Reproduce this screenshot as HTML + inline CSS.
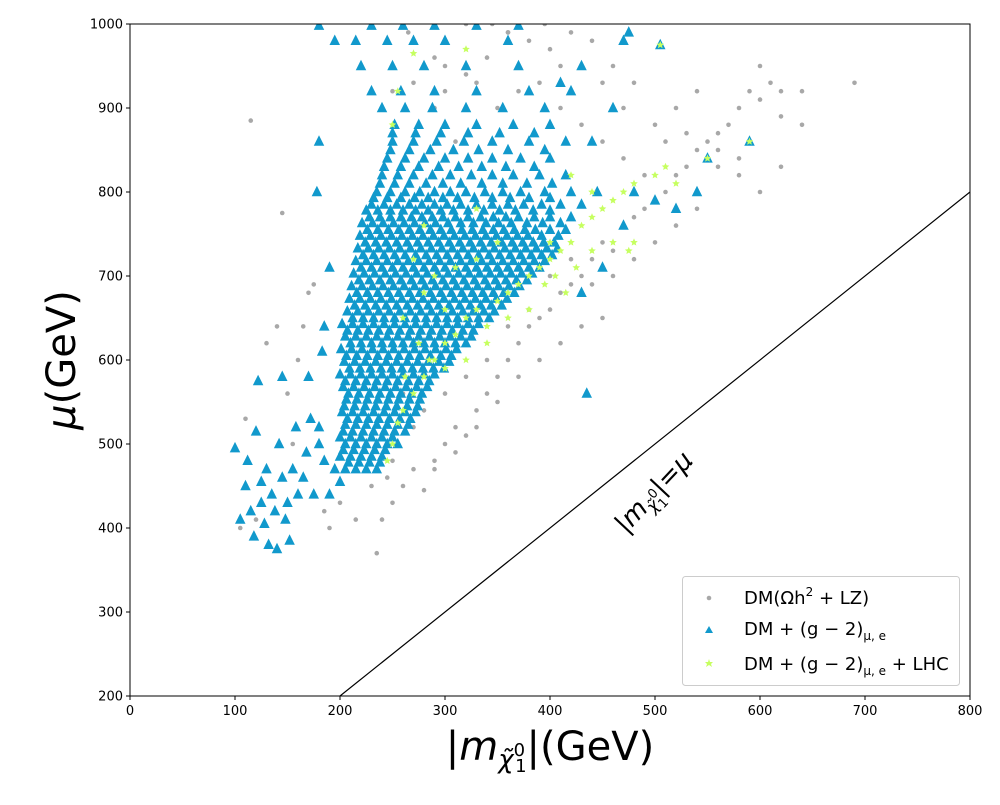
<!DOCTYPE html>
<html><head><meta charset="utf-8"><style>
body{margin:0;background:#fff}
svg text{font-family:"DejaVu Sans","Liberation Sans",sans-serif}
</style></head><body>
<svg id="chart" width="1000" height="800" xmlns="http://www.w3.org/2000/svg">
<g id="pts"></g>
<g id="axes"></g>
</svg>
<script>
const xTicks=[0,100,200,300,400,500,600,700,800];
const yTicks=[200,300,400,500,600,700,800,900,1000];
const blueRows=[
[470,[205,215,225,235]],[485,[200,210,220,230,240]],[500,[205,215,225,235,245,255]],
[515,[203,212,222,232,242,252,262]],[530,[207,217,227,237,247,257,267]],
[545,[204,214,224,234,244,254,264,274]],[560,[208,218,228,238,248,258,268,278]],
[575,[205,215,225,235,245,255,265,275,285]],[590,[209,219,229,239,249,259,269,279,289,299]],
[605,[206,216,226,236,246,256,266,276,286,296,306]],[620,[210,220,230,240,250,260,270,280,290,300,310,320]],
[635,[207,217,227,237,247,257,267,277,287,297,307,317,327]],[650,[212,222,232,242,252,262,272,282,292,302,312,322,332,342]],
[665,[214,224,234,244,254,264,274,284,294,304,314,324,334,344,354]],
[680,[216,226,236,246,256,266,276,286,296,306,316,326,336,346,356,366]],
[695,[218,228,238,248,258,268,278,288,298,308,318,328,338,348,358,368,378]],
[710,[220,230,240,250,260,270,280,290,300,310,320,330,340,350,360,370,380,390]],
[725,[222,232,242,252,262,272,282,292,302,312,322,332,342,352,362,372,382,392,402]],
[740,[224,234,244,254,264,274,284,294,304,314,324,334,344,354,364,374,384,394,404]],
[755,[226,236,246,256,266,276,286,296,306,316,326,336,346,356,366,376,386,400,415]],
[770,[228,238,248,258,268,278,288,298,310,322,334,346,358,370,385,400,420]],
[785,[230,242,254,266,278,290,302,315,330,345,360,375,392,410,430]],
[800,[235,248,262,276,290,305,320,338,355,372,395,420,445]],
[820,[240,255,270,288,305,325,345,365,390,415]],[840,[245,262,280,300,322,345,372,400]],
[860,[250,270,292,318,345,380,415]],[880,[252,275,300,330,365,400]],
[900,[240,262,288,320,355,395]],[920,[230,258,290,330,380,420]],
[950,[220,250,280,320,370,430]],[980,[215,245,270,300,360,470]],[998,[180,230,260,290,330,370]],
[478,[208,218,228,238]],[493,[203,213,223,233,243]],[508,[200,210,220,230,240,250]],
[523,[205,215,225,235,245,255,265]],[538,[202,212,222,232,242,252,262,272]],
[553,[206,216,226,236,246,256,266,276]],[568,[203,213,223,233,243,253,263,273,283]],
[583,[200,210,220,230,240,250,260,270,280,290]],[598,[204,214,224,234,244,254,264,274,284,294,304]],
[613,[201,211,221,231,241,251,261,271,281,291,301,311]],
[628,[205,215,225,235,245,255,265,275,285,295,305,315,325]],
[643,[202,212,222,232,242,252,262,272,282,292,302,312,322,332]],
[658,[207,217,227,237,247,257,267,277,287,297,307,317,327,337,347]],
[673,[209,219,229,239,249,259,269,279,289,299,309,319,329,339,349,359]],
[688,[211,221,231,241,251,261,271,281,291,301,311,321,331,341,351,361,371]],
[703,[213,223,233,243,253,263,273,283,293,303,313,323,333,343,353,363,373,383]],
[718,[215,225,235,245,255,265,275,285,295,305,315,325,335,345,355,365,375,385,395]],
[733,[217,227,237,247,257,267,277,287,297,307,317,327,337,347,357,367,377,387,397,407]],
[748,[219,229,239,249,259,269,279,289,299,309,319,329,339,349,359,369,379,392,408]],
[763,[221,231,241,251,261,271,281,291,303,315,327,339,351,363,378,393,410]],
[778,[225,236,248,260,272,284,296,308,322,337,352,367,384,400]],
[793,[232,245,258,271,284,298,312,328,345,362,380,400]],
[810,[238,252,266,282,298,315,335,355,378,402]],[830,[242,258,275,294,313,335,358,385]],
[850,[248,266,286,308,332,360,395]],[870,[250,272,296,322,352,385]]];
const blueExtra=[[180,860],[178,800],[195,980],[190,710],[185,640],[183,610],[170,580],[180,520],[435,560],[430,680],[450,710],[470,760],[480,800],[500,790],[520,780],[540,800],[550,840],[590,860],[505,975],[475,990],[440,860],[410,930],[460,900],
[100,495],[105,410],[110,450],[115,420],[118,390],[120,515],[122,575],[125,430],[128,405],[130,470],[132,380],[135,440],[138,420],[140,375],[142,500],[145,460],[148,410],[150,430],[152,385],[155,470],[158,520],[160,440],[165,460],[168,490],[172,530],[175,440],[180,500],[185,480],[145,580],[125,455],[112,480],[195,470],[200,455],[190,440]];
const gray=[[235,370],[240,410],[250,430],[260,450],[270,470],[280,445],[290,480],[300,500],[310,520],[320,510],[330,540],[340,560],[350,580],[360,600],[370,620],[380,640],[390,650],[400,660],[410,680],[420,690],[430,700],[440,720],[450,740],[460,730],[470,760],[480,770],[490,780],[500,790],[510,800],[520,820],[530,830],[540,850],[550,860],[560,870],[570,880],[580,900],[590,920],[600,910],[610,930],[620,920],[640,920],[690,930],[580,840],[560,830],[600,950],[620,890],[500,880],[520,900],[540,920],[480,930],[460,950],[440,980],[420,990],[400,970],[380,980],[360,990],[340,960],[320,940],[300,920],[290,900],[310,860],[330,880],[350,900],[370,920],[390,930],[410,900],[430,880],[450,860],[470,840],[490,820],[510,860],[530,870],[470,900],[450,930],[300,980],[320,1000],[280,950],[270,930],[290,960],[260,560],[270,520],[280,540],[300,560],[320,580],[340,600],[360,640],[380,660],[400,700],[420,720],[440,690],[460,700],[480,720],[500,740],[520,760],[450,650],[430,640],[410,620],[390,600],[370,580],[350,550],[330,520],[310,490],[290,470],[250,480],[255,500],[245,460],[120,410],[105,400],[110,530],[130,620],[140,640],[150,560],[160,600],[170,680],[175,690],[165,640],[155,500],[185,420],[190,400],[115,885],[145,775],[200,430],[215,410],[230,450],[360,990],[410,950],[560,850],[620,830],[540,780],[580,820],[600,800],[640,880],[300,950],[330,930],[345,1000],[395,1000],[265,990],[250,920]];
const green=[[255,525],[260,540],[270,560],[280,580],[290,600],[300,620],[310,630],[320,650],[330,660],[340,640],[350,670],[360,680],[370,690],[380,700],[390,710],[400,720],[410,730],[420,740],[430,760],[440,770],[450,780],[460,790],[470,800],[480,810],[500,820],[510,830],[520,810],[550,840],[590,860],[505,975],[320,970],[270,965],[255,920],[250,880],[400,740],[395,690],[405,700],[415,680],[425,710],[440,730],[380,660],[360,650],[340,620],[320,600],[300,590],[285,600],[275,620],[300,660],[280,680],[260,650],[270,720],[290,700],[310,710],[330,720],[350,740],[250,500],[245,480],[262,580],[280,760],[330,780],[420,820],[480,740],[460,740],[440,800],[475,730]];

const X0=130,X1=970,Y0=696,Y1=24;
const sx=v=>X0+(v-0)/800*(X1-X0);
const sy=v=>Y0-(v-200)/800*(Y0-Y1);
const NS="http://www.w3.org/2000/svg";
function mk(tag,attrs,parent){const e=document.createElementNS(NS,tag);for(const k in attrs)e.setAttribute(k,attrs[k]);parent.appendChild(e);return e;}
const pts=document.getElementById('pts'),ax=document.getElementById('axes');
const clip=mk('clipPath',{id:'cp'},pts);mk('rect',{x:X0,y:Y1,width:X1-X0,height:Y0-Y1},clip);
const gG=mk('g',{'clip-path':'url(#cp)'},pts);
gray.forEach(p=>{const c=mk('circle',{cx:sx(p[0]),cy:sy(p[1]),r:2.3,fill:'#a8a8a8'},gG);

});
const blue=[];blueRows.forEach(r=>r[1].forEach(x=>blue.push([x,r[0]])));blueExtra.forEach(p=>blue.push(p));
function tri(cx,cy,s){return `${cx},${cy-s*0.6} ${cx-s/2},${cy+s*0.4} ${cx+s/2},${cy+s*0.4}`;}
blue.forEach(p=>{const t=mk('polygon',{points:tri(sx(p[0]),sy(p[1]),10.5),fill:'#1199cc'},gG);

});
function star(cx,cy,R){let s=[];for(let i=0;i<10;i++){const r=i%2?R*0.45:R;const a=-Math.PI/2+i*Math.PI/5;s.push((cx+r*Math.cos(a)).toFixed(1)+','+(cy+r*Math.sin(a)).toFixed(1));}return s.join(' ');}
green.forEach(p=>{const t=mk('polygon',{points:star(sx(p[0]),sy(p[1]),4),fill:'#c6ff60'},gG);

});
const dl=mk('line',{x1:sx(200),y1:sy(200),x2:sx(800),y2:sy(800),stroke:'#000','stroke-width':1.2},gG);


const fr=mk('rect',{x:X0,y:Y1,width:X1-X0,height:Y0-Y1,fill:'none',stroke:'#000','stroke-width':1},ax);


xTicks.forEach(v=>{mk('line',{x1:sx(v),x2:sx(v),y1:Y0,y2:Y0+4,stroke:'#000'},ax);
const t=mk('text',{x:sx(v),y:Y0+19,'text-anchor':'middle','font-size':13},ax);t.textContent=v;

});
yTicks.forEach(v=>{mk('line',{x1:X0-4,x2:X0,y1:sy(v),y2:sy(v),stroke:'#000'},ax);
const t=mk('text',{x:X0-7,y:sy(v)+4.5,'text-anchor':'end','font-size':13},ax);t.textContent=v;

});
</script>
<svg style="position:absolute;left:0;top:0" width="1000" height="800" xmlns="http://www.w3.org/2000/svg">
<text transform="translate(660,498) rotate(-46.8)" font-size="26" text-anchor="middle" font-family="DejaVu Sans,sans-serif">|<tspan font-style="italic">m</tspan><tspan font-size="17" dy="6" font-style="italic">χ̃</tspan><tspan font-size="13" dy="-10">0</tspan><tspan font-size="13" dx="-8" dy="14">1</tspan><tspan dy="-10">|=</tspan><tspan font-style="italic">μ</tspan></text>
<text transform="translate(75,360) rotate(-90)" font-size="40" text-anchor="middle" font-family="DejaVu Sans,sans-serif"><tspan font-style="italic">μ</tspan>(GeV)</text>
<text x="550" y="760" font-size="40" text-anchor="middle" font-family="DejaVu Sans,sans-serif">|<tspan font-style="italic">m</tspan><tspan font-size="26" dy="8" font-style="italic">χ̃</tspan><tspan font-size="18" dy="-12">0</tspan><tspan font-size="18" dx="-10" dy="16">1</tspan><tspan dy="-12">|(GeV)</tspan></text>
<g font-family="DejaVu Sans,sans-serif">
<rect x="682.5" y="576.5" width="277" height="109" rx="3" fill="#fff" fill-opacity="0.85" stroke="#ccc"/>
<circle cx="709" cy="598" r="2.3" fill="#a8a8a8"/>
<text x="744" y="604" font-size="18">DM(Ωh<tspan font-size="12" dy="-8">2</tspan><tspan dy="8"> + LZ)</tspan></text>
<polygon points="709,626 705,633 713,633" fill="#1199cc"/>
<text x="744" y="635" font-size="18">DM + (g − 2)<tspan font-size="12" dy="5">μ, e</tspan></text>
<polygon points="709,659 710,662 713,662 711,664 712,667 709,665 706,667 707,664 705,662 708,662" fill="#c6ff60"/>
<text x="744" y="670" font-size="18">DM + (g − 2)<tspan font-size="12" dy="5">μ, e</tspan><tspan dy="-5"> + LHC</tspan></text>
</g>
</svg>
</body></html>
